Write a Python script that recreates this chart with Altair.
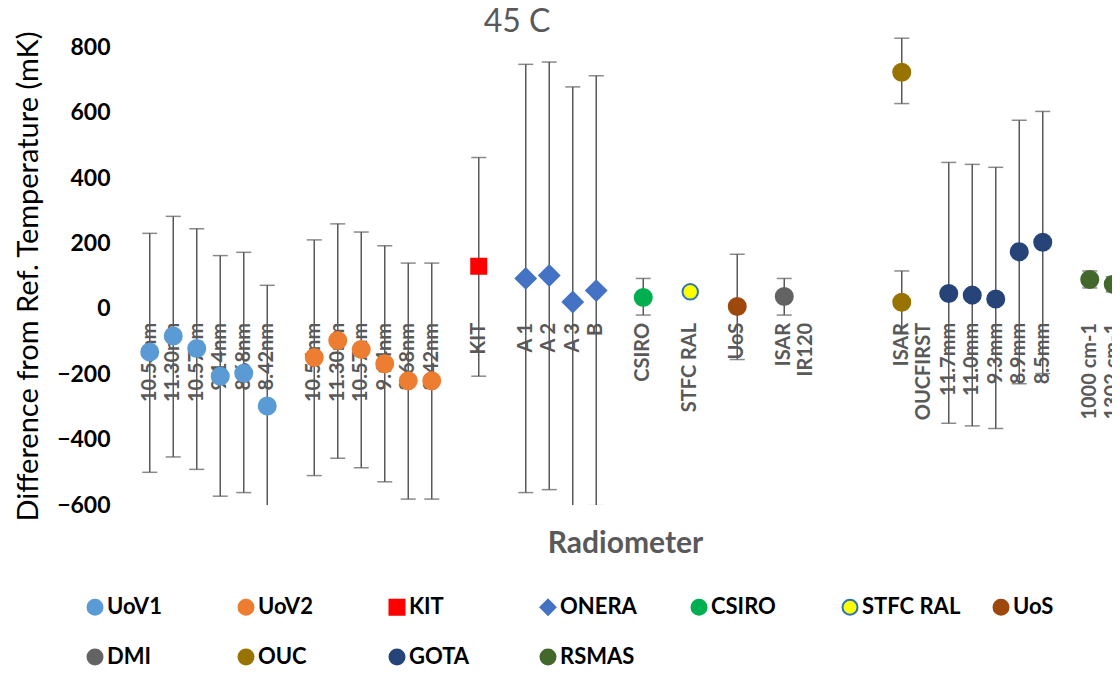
import altair as alt
import pandas as pd

# ---- data ----
series_names = ["UoV1", "UoV2", "KIT", "ONERA", "CSIRO", "STFC RAL", "UoS",
                "DMI", "OUC", "GOTA", "RSMAS"]
fill_colors = ["#5B9BD5", "#ED7D31", "#FF0000", "#4472C4", "#00B050", "#FFFF00",
               "#9E480E", "#636363", "#997300", "#264478", "#43682B"]
stroke_colors = ["#5B9BD5", "#ED7D31", "#FF0000", "#4472C4", "#00B050", "#2E75B6",
                 "#9E480E", "#636363", "#997300", "#264478", "#43682B"]
shapes = ["circle", "circle", "square", "diamond", "circle", "circle",
          "circle", "circle", "circle", "circle", "circle"]

# category slots along the x axis ("" = empty slot)
slot_labels = [
    "10.54nm", "11.30nm", "10.57nm", "9.14nm", "8.68nm", "8.42nm", "",
    "10.54nm", "11.30nm", "10.57nm", "9.14nm", "8.68nm", "8.42nm", "",
    "KIT", "",
    "A 1", "A 2", "A 3", "B", "",
    "CSIRO", "",
    "STFC RAL", "",
    "UoS", "",
    "ISAR\nIR120", "", "", "", "",
    "ISAR\nOUCFIRST", "",
    "11.7mm", "11.0mm", "9.3mm", "8.9mm", "8.5mm", "",
    "1000 cm-1", "1302 cm-1",
]
slot_series = [
    "UoV1", "UoV1", "UoV1", "UoV1", "UoV1", "UoV1", "",
    "UoV2", "UoV2", "UoV2", "UoV2", "UoV2", "UoV2", "",
    "KIT", "",
    "ONERA", "ONERA", "ONERA", "ONERA", "",
    "CSIRO", "",
    "STFC RAL", "",
    "UoS", "",
    "DMI", "", "", "", "",
    "OUC", "",
    "GOTA", "GOTA", "GOTA", "GOTA", "GOTA", "",
    "RSMAS", "RSMAS",
]
slot_values = [
    -132, -83, -121, -206, -197, -297, None,
    -149, -97, -124, -168, -220, -220, None,
    130, None,
    93, 102, 21, 56, None,
    35, None,
    52, None,
    7, None,
    38, None, None, None, None,
    724, None,
    47, 42, 30, 175, 204, None,
    90, 75,
]
slot_lower = [
    -500, -453, -491, -573, -562, -666, None,
    -510, -457, -486, -529, -582, -582, None,
    -206, None,
    -562, -553, -637, -602, None,
    -19, None,
    44, None,
    -155, None,
    -19, None, None, None, None,
    628, None,
    -350, -358, -366, -229, -198, None,
    64, 52,
]
slot_upper = [
    231, 283, 245, 163, 173, 72, None,
    211, 260, 235, 193, 140, 140, None,
    463, None,
    748, 755, 679, 713, None,
    93, None,
    60, None,
    167, None,
    93, None, None, None, None,
    828, None,
    448, 442, 433, 577, 604, None,
    116, 98,
]
# second OUC point (OUCFIRST) shares the slot with the ISAR point
ISAR_OUCFIRST_VALUE = 20
ISAR_OUCFIRST_LOWER = -76
ISAR_OUCFIRST_UPPER = 116
y_ticks = [-600, -400, -200, 0, 200, 400, 600, 800]

rows = []
for i, lab in enumerate(slot_labels):
    if lab == "":
        continue
    rows.append(dict(pos=i, label=lab, series=slot_series[i], value=slot_values[i],
                     lower=slot_lower[i], upper=slot_upper[i]))
rows.append(dict(pos=slot_labels.index("ISAR\nOUCFIRST"), label="", series="OUC",
                 value=ISAR_OUCFIRST_VALUE, lower=ISAR_OUCFIRST_LOWER, upper=ISAR_OUCFIRST_UPPER))
df = pd.DataFrame(rows)
labels_df = df[df["label"] != ""]

FONT = "Lato"
slot_px = 23.5
plot_w = 974
plot_h = 474
x_max = -0.5 + plot_w / slot_px

xscale = alt.Scale(domain=[-0.5, x_max], nice=False, zero=False)
xaxis = alt.Axis(labels=False, ticks=False, domain=False, grid=False,
                 title="Radiometer", titleFont=FONT, titleFontSize=30,
                 titleFontWeight="bold", titleColor="#595959", titlePadding=23)
xenc = alt.X("pos:Q", scale=xscale, axis=xaxis)
yscale = alt.Scale(domain=[-600, 850], nice=False, zero=False)
yaxis = alt.Axis(values=y_ticks, title="Difference from Ref. Temperature (mK)",
                 labelFont=FONT, labelFontSize=23, labelFontWeight="bold", labelColor="#000000",
                 labelPadding=28, ticks=False, domain=False, gridColor="#d9d9d9", gridWidth=1.3,
                 titleFont=FONT, titleFontSize=29, titleFontWeight="normal", titleColor="#000000",
                 titlePadding=13, titleLimit=800, titleY=245)

base = alt.Chart(df)

labels = alt.Chart(labels_df).mark_text(
    angle=270, align="right", baseline="middle", dx=-14, font=FONT, fontSize=20,
    fontWeight="bold", color="#595959", lineBreak="\n"
).encode(x=xenc, y=alt.datum(0, scale=yscale, axis=yaxis), text="label:N")

rules = base.mark_rule(color="#595959", strokeWidth=1.5, clip=True).encode(
    x=xenc, y=alt.Y("lower:Q", scale=yscale, axis=yaxis), y2="upper:Q")
cap_lo = base.mark_tick(orient="horizontal", size=15, thickness=1.5, color="#595959",
                        clip=True).encode(x=xenc, y=alt.Y("lower:Q", scale=yscale, axis=yaxis))
cap_hi = base.mark_tick(orient="horizontal", size=15, thickness=1.5, color="#595959",
                        clip=True).encode(x=xenc, y=alt.Y("upper:Q", scale=yscale, axis=yaxis))

leg = alt.Legend(title=None, orient="none", legendX=-54, legendY=565, direction="horizontal",
                 columns=7, gridAlign="all", columnPadding=28, rowPadding=26,
                 labelFont=FONT, labelFontSize=22, labelFontWeight="bold", labelColor="#000000",
                 symbolSize=225, symbolStrokeWidth=2, labelOffset=1, padding=0)
size_rule = (alt.when(alt.datum.series == "ONERA").then(alt.value(400))
             .when(alt.datum.series == "KIT").then(alt.value(225))
             .when(alt.datum.series == "STFC RAL").then(alt.value(240))
             .otherwise(alt.value(290)))
points = base.mark_point(filled=True, opacity=1, strokeWidth=2).encode(
    x=xenc,
    y=alt.Y("value:Q", scale=yscale, axis=yaxis),
    fill=alt.Fill("series:N", scale=alt.Scale(domain=series_names, range=fill_colors), legend=leg),
    stroke=alt.Stroke("series:N", scale=alt.Scale(domain=series_names, range=stroke_colors), legend=leg),
    shape=alt.Shape("series:N", scale=alt.Scale(domain=series_names, range=shapes), legend=leg),
    size=size_rule,
)

chart = alt.layer(labels, rules, cap_lo, cap_hi, points).properties(
    width=plot_w, height=plot_h,
    title=alt.Title("45 C", font=FONT, fontSize=32, fontWeight="normal", color="#595959",
                    anchor="middle", dx=-108, dy=8, offset=0),
    autosize=alt.AutoSizeParams(type="none"),
    padding={"left": 130, "top": 23, "right": 0, "bottom": 163},
).configure(background="white").configure_view(stroke=None)

chart.save("out.html", embed_options={"renderer": "svg", "actions": False})
